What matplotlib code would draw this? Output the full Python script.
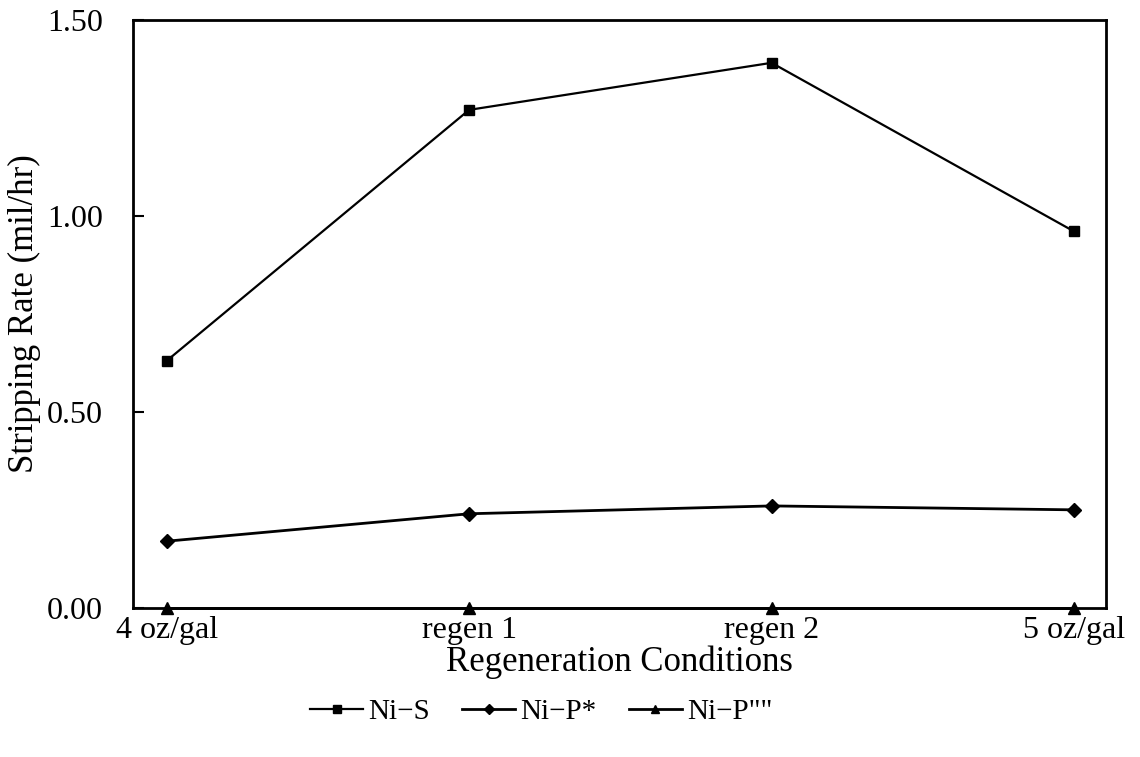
import numpy as np
import matplotlib.pyplot as plt

plt.rcParams['font.family'] = ['Liberation Serif', 'DejaVu Serif']

# data
condicoes = ['4 oz/gal', 'regen 1', 'regen 2', '5 oz/gal']
ni_s = [0.63, 1.27, 1.39, 0.96]
ni_p_a = [0.17, 0.24, 0.26, 0.25]
ni_p_b = [0.0, 0.0, 0.0, 0.0]
y_ticks = [0.0, 0.5, 1.0, 1.5]
y_labels = ['0.00', '0.50', '1.00', '1.50']

x = np.arange(len(condicoes))

fig = plt.figure(figsize=(11.4, 7.57), dpi=100)
ax = fig.add_axes([0.117, 0.197, 0.853, 0.777])

ax.plot(x, ni_s, color='black', lw=1.6, marker='s', ms=7, label='Ni\u2212S', clip_on=False)
ax.plot(x, ni_p_a, color='black', lw=2.0, marker='D', ms=7, label='Ni\u2212P*', clip_on=False)
ax.plot(x, ni_p_b, color='black', lw=2.0, marker='^', ms=8, label='Ni\u2212P""', clip_on=False)

ax.set_xlim(-0.11, 3.105)
ax.set_ylim(0, 1.5)
ax.set_xticks(x)
ax.set_xticklabels(condicoes)
ax.set_yticks(y_ticks)
ax.set_yticklabels(y_labels)

ax.tick_params(axis='y', direction='in', length=8, width=1.5, labelsize=23, pad=22)
ax.tick_params(axis='x', length=0, labelsize=23, pad=6)
for s in ax.spines.values():
    s.set_linewidth(2)

ax.set_xlabel('Regeneration Conditions', fontsize=25, labelpad=0)
ax.set_ylabel('Stripping Rate (mil/hr)', fontsize=25, labelpad=4)

fig.legend(loc='center', bbox_to_anchor=(0.475, 0.06), ncol=3, frameon=False,
           fontsize=21, handlelength=1.8, columnspacing=1.1, handletextpad=0.2, markerscale=0.8)

fig.savefig('out.png', dpi=100)
